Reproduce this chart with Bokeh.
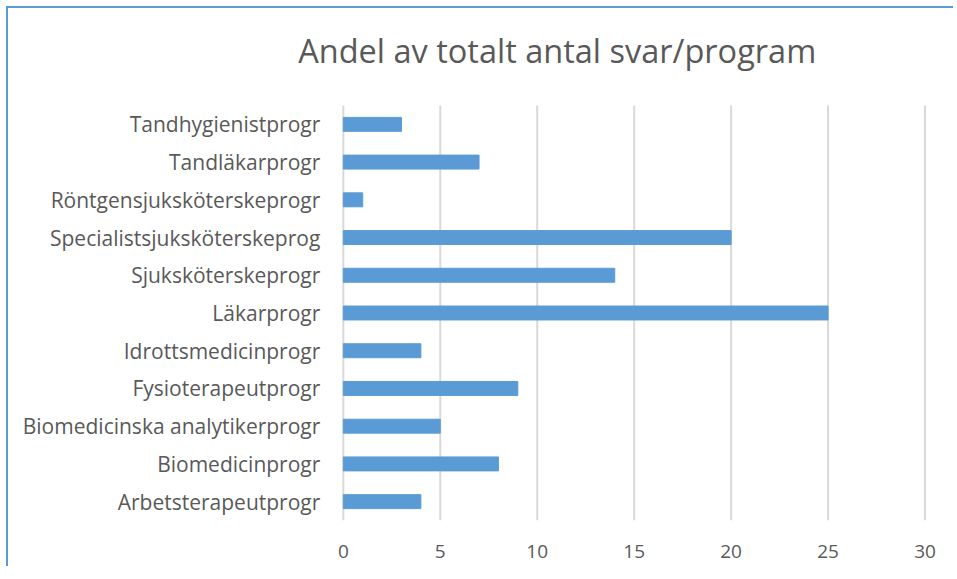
from bokeh.plotting import figure
from bokeh.models import Label, Range1d, FixedTicker
from bokeh.core.properties import value
from bokeh.embed import file_html
from bokeh.resources import INLINE

programs = [
    "Arbetsterapeutprogr",
    "Biomedicinprogr",
    "Biomedicinska analytikerprogr",
    "Fysioterapeutprogr",
    "Idrottsmedicinprogr",
    "Läkarprogr",
    "Sjuksköterskeprogr",
    "Specialistsjuksköterskeprog",
    "Röntgensjuksköterskeprogr",
    "Tandläkarprogr",
    "Tandhygienistprogr",
]
values = [4, 8, 5, 9, 4, 25, 14, 20, 1, 7, 3]
x_ticks = [0, 5, 10, 15, 20, 25, 30]
title_text = "Andel av totalt antal svar/program"

FONT = "Open Sans"
TXT = "#595959"

# layout (pixels on the page)
W, H = 947, 560
LEFT0, TOP0 = 8, 8            # figure content origin on page
FR_L, FR_R, FR_B = 343, 925, 520   # where 0, 30 and the category bottom lie
CAT_PX = 415 / len(programs)  # pixel height of one category band
px_x = (FR_R - FR_L) / x_ticks[-1]

x_min = -(FR_L - LEFT0) / px_x
x_max = x_ticks[-1] + 1.5 / px_x
y_top = (FR_B - TOP0) / CAT_PX

n = len(programs)
ypos = [i + 0.5 for i in range(n)]

p = figure(
    width=W, height=H,
    x_range=Range1d(x_min, x_max), y_range=Range1d(0, y_top),
    output_backend="svg", toolbar_location=None, y_axis_location=None,
    min_border_left=0, min_border_right=LEFT0 + W - FR_R - 1,
    min_border_top=0, min_border_bottom=TOP0 + H - FR_B,
)

# vertical gridlines (only across the category area)
p.segment(x0=x_ticks, x1=x_ticks, y0=[0] * len(x_ticks), y1=[n] * len(x_ticks),
          line_color="#D9D9D9", line_width=2)

p.hbar(y=ypos, right=values, left=0, height=0.37, color="#5B9BD5", line_color="#5B9BD5")

# category labels
p.text(x=[0] * n, y=ypos, text=programs, x_offset=-23,
       text_align="right", text_baseline="middle",
       text_font=value(FONT), text_font_size="21px", text_color=TXT)

p.xaxis.ticker = FixedTicker(ticks=x_ticks)
p.xaxis.axis_line_color = None
p.xaxis.major_tick_line_color = None
p.xaxis.minor_tick_line_color = None
p.xaxis.major_label_text_font = FONT
p.xaxis.major_label_text_font_size = "19px"
p.xaxis.major_label_text_color = TXT
p.xaxis.major_label_standoff = 18

p.xgrid.grid_line_color = None
p.ygrid.grid_line_color = None
p.outline_line_color = None

p.add_layout(Label(x=(557 - FR_L) / px_x, y=(FR_B - 50) / CAT_PX, text=title_text,
                   text_align="center", text_baseline="middle", text_font=FONT,
                   text_font_size="32.5px", text_color=TXT))

p.styles = {"margin-left": "6px", "margin-top": "6px",
            "border-left": "2px solid #5B9BD5", "border-top": "2px solid #5B9BD5"}

open("out.html", "w").write(file_html(p, INLINE))
